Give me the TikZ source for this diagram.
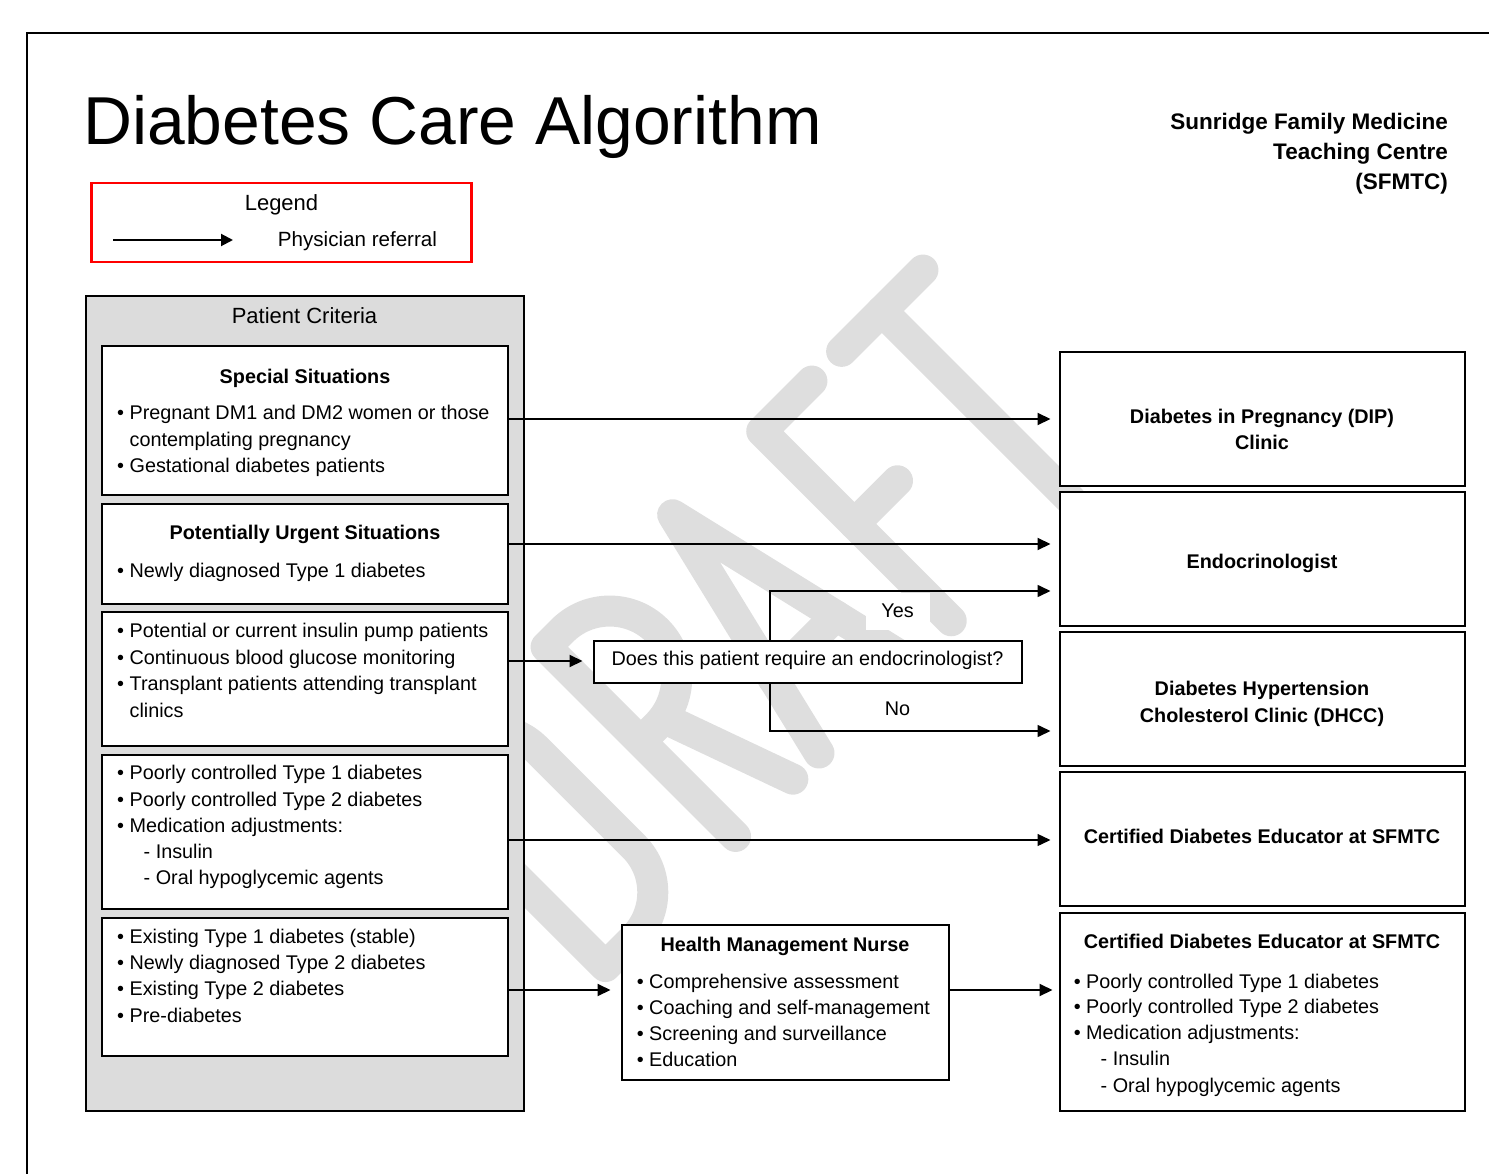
\documentclass[tikz,border=0pt]{standalone}
\usepackage{fontspec}
\setmainfont{Liberation Sans}
\usetikzlibrary{arrows.meta}
\definecolor{wmgray}{RGB}{222,222,222}
\definecolor{panelgray}{RGB}{220,220,220}
\definecolor{legendred}{RGB}{255,0,0}
\newcommand\bodyfont{\fontsize{19.8}{24}\selectfont}
\begin{document}
\begin{tikzpicture}[x=1pt,y=-1pt,
  box/.style={draw=black, line width=2, fill=white, rectangle, inner sep=0, outer sep=0, anchor=north west},
  ln/.style={inner sep=0, anchor=base west, font=\bodyfont},
  ttl/.style={inner sep=0, anchor=base, font=\bodyfont\bfseries},
  ctr/.style={inner sep=0, anchor=base, font=\bodyfont},
  arr/.style={line width=2, -{Triangle[length=13pt,width=12pt]}, shorten >=9pt},
  wm/.style={draw=wmgray, line width=31, line cap=round, line join=round},
  branchlbl/.style={fill=white, inner sep=0, minimum width=64, minimum height=37, font=\bodyfont}
]
\useasboundingbox (0,0) rectangle (1489,1174);

% page frame
\coordinate (fa) at (27,1174);
\coordinate (fb) at (27,33);
\coordinate (fc) at (1489,33);
\draw[line width=1.2] (fa) -- (fb) -- (fc);

% DRAFT watermark, drawn as thick rounded strokes along a 45 degree baseline
\begin{scope}[shift={(819,753)}, rotate=45, wm]
  % D
  \draw (-302,0) -- (-302,-268) -- (-262,-268) arc[start angle=270, end angle=360, radius=65]
        -- (-197,-65) arc[start angle=0, end angle=90, radius=65] -- cycle;
  % R
  \draw (-118,0) -- (-118,-268) -- (-95,-268) arc[start angle=270, end angle=450, radius=67] -- (-118,-134);
  \draw (-85,-134) -- (-37,0);
  % A
  \draw (0,0) -- (65,-272) -- (129,0);
  \draw (20,-85) -- (109,-85);
  % F
  \draw (258,-268) -- (187,-268) -- (187,0);
  \draw (187,-137) -- (248,-137);
  % T
  \draw (300,-268) -- (415,-268);
  \draw (357,-268) -- (357,0);
\end{scope}

% headings
\node[inner sep=0, anchor=base west, font=\fontsize{67.8}{80}\selectfont] (title) at (83,145) {Diabetes Care Algorithm};
\node[inner sep=0, anchor=base east, font=\fontsize{22.5}{27}\selectfont\bfseries] (hd1) at (1448,130) {Sunridge Family Medicine};
\node[inner sep=0, anchor=base east, font=\fontsize{22.5}{27}\selectfont\bfseries] (hd2) at (1448,160) {Teaching Centre};
\node[inner sep=0, anchor=base east, font=\fontsize{22.5}{27}\selectfont\bfseries] (hd3) at (1448,190) {(SFMTC)};

% legend
\node[draw=legendred, line width=2.7, rectangle, inner sep=0, outer sep=0, anchor=north west,
      minimum width=380, minimum height=79] (legend) at (91.5,183) {};
\node[inner sep=0, anchor=base, font=\fontsize{22}{26}\selectfont] (legendttl) at (281.5,211) {Legend};
\node[inner sep=0, anchor=base west, font=\fontsize{20.6}{25}\selectfont] (legendtxt) at (277.7,247) {Physician referral};
\coordinate (lg1) at (113,240);
\coordinate (lg2) at (233,240);
\draw[line width=2, -{Triangle[length=12pt,width=12pt]}] (lg1) -- (lg2);

% patient criteria panel
\node[box, fill=panelgray, minimum width=437.5, minimum height=814.5] (panel) at (86,296) {};
\node[inner sep=0, anchor=base, font=\fontsize{22}{26}\selectfont] (panelttl) at (304.5,323.5) {Patient Criteria};

\node[box, minimum width=405.5, minimum height=149] (b1) at (102,346) {};
\node[box, minimum width=405.5, minimum height=100.5] (b2) at (102,503.5) {};
\node[box, minimum width=405.5, minimum height=133.5] (b3) at (102,612) {};
\node[box, minimum width=405.5, minimum height=154] (b4) at (102,754.5) {};
\node[box, minimum width=405.5, minimum height=138] (b5) at (102,917.5) {};

\node[ttl] (b1t) at (305,383) {Special Situations};
\node[ln] (b1a) at (117,419) {• Pregnant DM1 and DM2 women or those};
\node[ln] (b1b) at (129.4,446) {contemplating pregnancy};
\node[ln] (b1c) at (117,472) {• Gestational diabetes patients};

\node[ttl] (b2t) at (305,539) {Potentially Urgent Situations};
\node[ln] (b2a) at (117,577) {• Newly diagnosed Type 1 diabetes};

\node[ln] (b3a) at (117,637.5) {• Potential or current insulin pump patients};
\node[ln] (b3b) at (117,664) {• Continuous blood glucose monitoring};
\node[ln] (b3c) at (117,690.5) {• Transplant patients attending transplant};
\node[ln] (b3d) at (129.4,717) {clinics};

\node[ln] (b4a) at (117,779) {• Poorly controlled Type 1 diabetes};
\node[ln] (b4b) at (117,806) {• Poorly controlled Type 2 diabetes};
\node[ln] (b4c) at (117,832) {• Medication adjustments:};
\node[ln] (b4d) at (143.5,858) {- Insulin};
\node[ln] (b4e) at (143.5,884) {- Oral hypoglycemic agents};

\node[ln] (b5a) at (117,943) {• Existing Type 1 diabetes (stable)};
\node[ln] (b5b) at (117,969) {• Newly diagnosed Type 2 diabetes};
\node[ln] (b5c) at (117,995) {• Existing Type 2 diabetes};
\node[ln] (b5d) at (117,1022) {• Pre-diabetes};

% decision
\node[box, minimum width=428, minimum height=42] (q) at (593.5,640.5) {};
\node[ctr] (qt) at (807.5,665) {Does this patient require an endocrinologist?};
\node[branchlbl] (yes) at (897.5,611) {Yes};
\node[branchlbl] (no) at (897.5,709) {No};

% health management nurse
\node[box, minimum width=327, minimum height=155.5] (hmn) at (621.5,924.5) {};
\node[ttl] (hmnt) at (785,951) {Health Management Nurse};
\node[ln] (hmna) at (636.6,988) {• Comprehensive assessment};
\node[ln] (hmnb) at (636.6,1014) {• Coaching and self-management};
\node[ln] (hmnc) at (636.6,1040) {• Screening and surveillance};
\node[ln] (hmnd) at (636.6,1066) {• Education};

% destinations
\node[box, minimum width=405, minimum height=133.5] (dip) at (1059.5,352.5) {};
\node[box, minimum width=405, minimum height=134] (endo) at (1059.5,492) {};
\node[box, minimum width=405, minimum height=134] (dhcc) at (1059.5,631.5) {};
\node[box, minimum width=405, minimum height=134] (cde1) at (1059.5,772) {};
\node[box, minimum width=405, minimum height=198] (cde2) at (1059.5,912.5) {};

\node[ttl] (dipa) at (1262,423) {Diabetes in Pregnancy (DIP)};
\node[ttl] (dipb) at (1262,449) {Clinic};
\node[ttl] (endot) at (1262,568) {Endocrinologist};
\node[ttl] (dhcca) at (1262,695) {Diabetes Hypertension};
\node[ttl] (dhccb) at (1262,722) {Cholesterol Clinic (DHCC)};
\node[ttl] (cde1t) at (1262,843) {Certified Diabetes Educator at SFMTC};
\node[ttl] (cde2t) at (1262,948.5) {Certified Diabetes Educator at SFMTC};
\node[ln] (cde2a) at (1073.6,988) {• Poorly controlled Type 1 diabetes};
\node[ln] (cde2b) at (1073.6,1013.5) {• Poorly controlled Type 2 diabetes};
\node[ln] (cde2c) at (1073.6,1039.5) {• Medication adjustments:};
\node[ln] (cde2d) at (1100.5,1065.5) {- Insulin};
\node[ln] (cde2e) at (1100.5,1092) {- Oral hypoglycemic agents};

% referral connectors
\coordinate (r1) at (0,419);
\coordinate (r2) at (0,544);
\coordinate (r3) at (0,661);
\coordinate (r4) at (0,840);
\coordinate (r5) at (0,990);
\coordinate (yr) at (770,591);
\coordinate (nr) at (770,731);

\draw[arr] (b1.east |- r1) -- (dip.west |- r1);
\draw[arr] (b2.east |- r2) -- (endo.west |- r2);
\draw[arr, shorten >=11pt] (b3.east |- r3) -- (q.west |- r3);
\draw[arr, line width=1.3] (b4.east |- r4) -- (cde1.west |- r4);
\draw[arr, shorten >=11pt] (b5.east |- r5) -- (hmn.west |- r5);
\draw[arr, shorten >=7pt] (hmn.east |- r5) -- (cde2.west |- r5);
\draw[arr, line width=1.6] (q.north -| yr) |- (endo.west |- yr);
\draw[arr, line width=1.6] (q.south -| nr) |- (dhcc.west |- nr);
\end{tikzpicture}
\end{document}
